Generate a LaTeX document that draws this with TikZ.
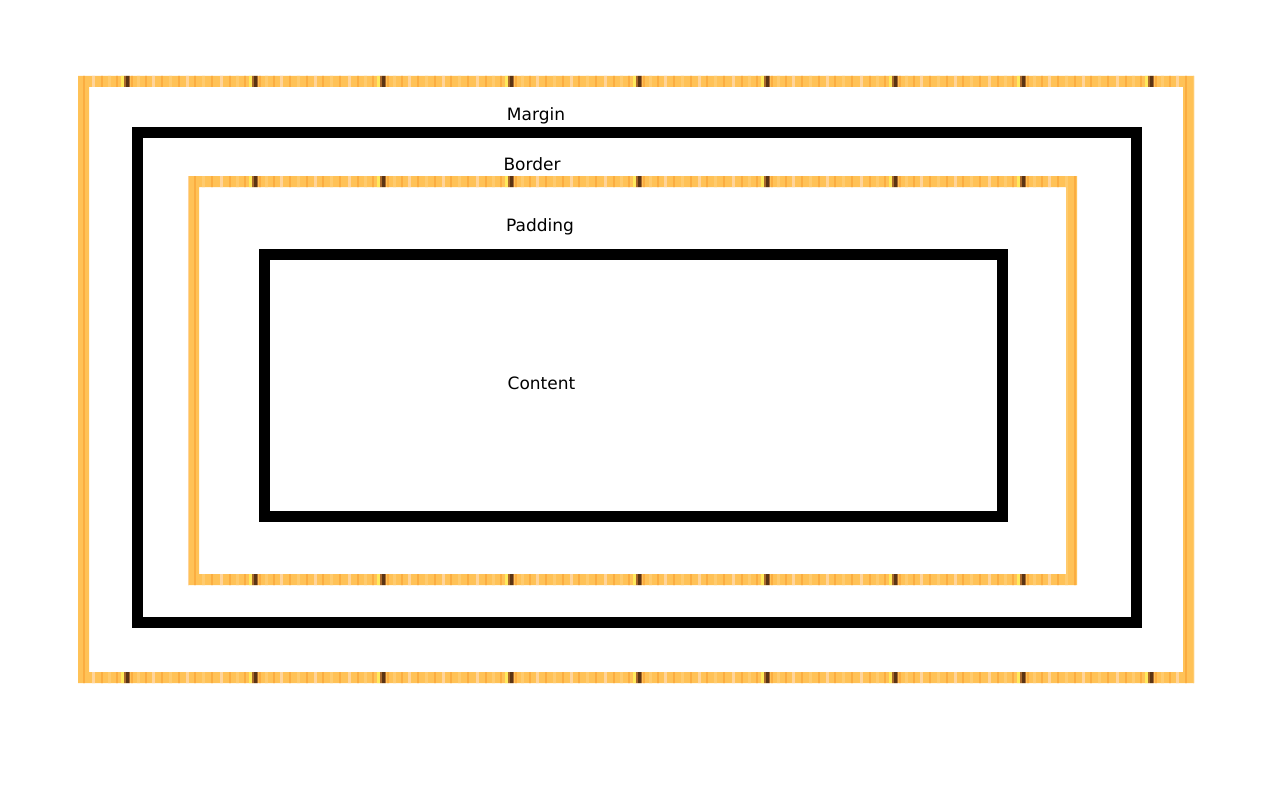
\documentclass[tikz,border=0pt]{standalone}
\usepackage{fontspec}
\setmainfont{DejaVu Sans}
\definecolor{orbase}{HTML}{FFC257}
\definecolor{ordark}{HTML}{FBAD40}
\definecolor{orlight}{HTML}{FFCB6E}
\definecolor{orpale}{HTML}{FFD49A}
\definecolor{oryellow}{HTML}{FFEA5C}
\definecolor{orbrown}{HTML}{5A3414}
\definecolor{orbrownmid}{HTML}{A8682C}
\tikzset{
  blackframe/.style={draw=black,line width=11pt,line join=miter},
  lbl/.style={anchor=base,inner sep=0pt,font=\fontsize{17}{20}\selectfont}
}
\begin{document}
\begin{tikzpicture}[x=1pt,y=-1pt]
\useasboundingbox (0,0) rectangle (1280,800);
\fill[white] (0,0) rectangle (1280,800);
% wood-textured orange frames
\begin{scope}
\clip (78,76) rectangle (1194,87)
      (78,672) rectangle (1194,683)
      (78,76) rectangle (89,683)
      (1183,76) rectangle (1194,683)
      (188,176) rectangle (1077,187)
      (188,574) rectangle (1077,585)
      (188,176) rectangle (199,585)
      (1066,176) rectangle (1077,585);
\fill[orbase] (70,70) rectangle (1200,690);
\foreach \k in {0,...,9}{
  \foreach \o/\w/\c in {3/2/ordark,9/3/orlight,17/2/ordark,24/3/orpale,33/2/ordark,41/3/orlight,50/2/ordark,58/3/orpale,66/2/ordark,74/3/orlight,83/2/ordark,92/3/orpale,101/2/ordark,108/3/orlight,116/2/ordark,121/3/oryellow,124/2/orbrownmid,126/3/orbrown,129/1/orbrownmid}{
    \fill[\c] ({128*\k+\o},70) rectangle ({128*\k+\o+\w},690);
  }
}
\end{scope}
% black frames
\draw[blackframe] (137.5,132) rectangle (1136.5,622);
\draw[blackframe] (264,254) rectangle (1002.5,516);
% labels
\node[lbl] (margin) at (536,120) {Margin};
\node[lbl] (border) at (532,170.5) {Border};
\node[lbl] (padding) at (540,231.5) {Padding};
\node[lbl] (content) at (541.5,389) {Content};
\end{tikzpicture}
\end{document}
